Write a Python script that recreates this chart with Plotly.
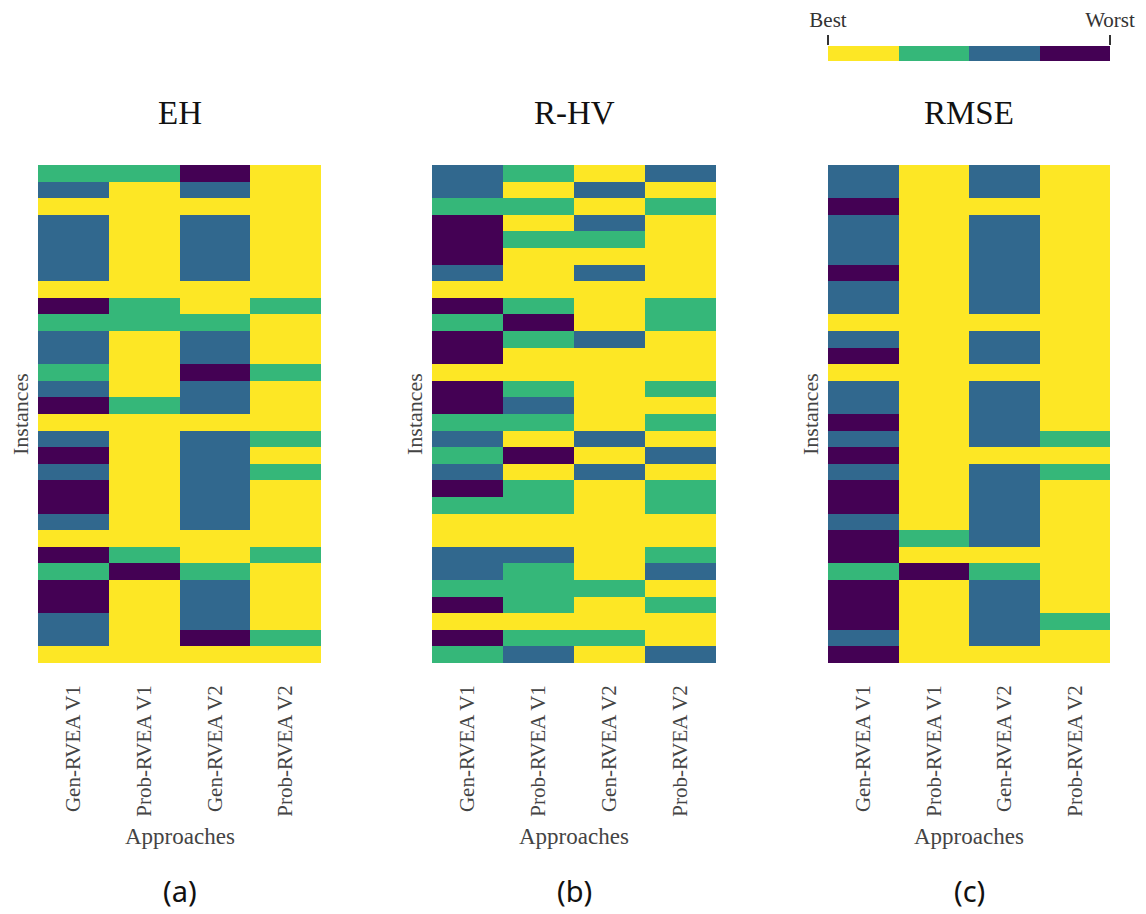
import plotly.graph_objects as go

W, H = 1146, 914

approaches = ["Gen-RVEA V1", "Prob-RVEA V1", "Gen-RVEA V2", "Prob-RVEA V2"]
instances = list(range(1, 31))
metrics = ["EH", "R-HV", "RMSE"]
captions = ["(a)", "(b)", "(c)"]
legend_ranks = [1, 2, 3, 4]
legend_labels = ["Best", "Worst"]

# rank per instance (row) and approach (column): 1 = best ... 4 = worst
eh_ranks = [
    [2, 2, 4, 1], [3, 1, 3, 1], [1, 1, 1, 1], [3, 1, 3, 1], [3, 1, 3, 1],
    [3, 1, 3, 1], [3, 1, 3, 1], [1, 1, 1, 1], [4, 2, 1, 2], [2, 2, 2, 1],
    [3, 1, 3, 1], [3, 1, 3, 1], [2, 1, 4, 2], [3, 1, 3, 1], [4, 2, 3, 1],
    [1, 1, 1, 1], [3, 1, 3, 2], [4, 1, 3, 1], [3, 1, 3, 2], [4, 1, 3, 1],
    [4, 1, 3, 1], [3, 1, 3, 1], [1, 1, 1, 1], [4, 2, 1, 2], [2, 4, 2, 1],
    [4, 1, 3, 1], [4, 1, 3, 1], [3, 1, 3, 1], [3, 1, 4, 2], [1, 1, 1, 1],
]
rhv_ranks = [
    [3, 2, 1, 3], [3, 1, 3, 1], [2, 2, 1, 2], [4, 1, 3, 1], [4, 2, 2, 1],
    [4, 1, 1, 1], [3, 1, 3, 1], [1, 1, 1, 1], [4, 2, 1, 2], [2, 4, 1, 2],
    [4, 2, 3, 1], [4, 1, 1, 1], [1, 1, 1, 1], [4, 2, 1, 2], [4, 3, 1, 1],
    [2, 2, 1, 2], [3, 1, 3, 1], [2, 4, 1, 3], [3, 1, 3, 1], [4, 2, 1, 2],
    [2, 2, 1, 2], [1, 1, 1, 1], [1, 1, 1, 1], [3, 3, 1, 2], [3, 2, 1, 3],
    [2, 2, 2, 1], [4, 2, 1, 2], [1, 1, 1, 1], [4, 2, 2, 1], [2, 3, 1, 3],
]
rmse_ranks = [
    [3, 1, 3, 1], [3, 1, 3, 1], [4, 1, 1, 1], [3, 1, 3, 1], [3, 1, 3, 1],
    [3, 1, 3, 1], [4, 1, 3, 1], [3, 1, 3, 1], [3, 1, 3, 1], [1, 1, 1, 1],
    [3, 1, 3, 1], [4, 1, 3, 1], [1, 1, 1, 1], [3, 1, 3, 1], [3, 1, 3, 1],
    [4, 1, 3, 1], [3, 1, 3, 2], [4, 1, 1, 1], [3, 1, 3, 2], [4, 1, 3, 1],
    [4, 1, 3, 1], [3, 1, 3, 1], [4, 2, 3, 1], [4, 1, 1, 1], [2, 4, 2, 1],
    [4, 1, 3, 1], [4, 1, 3, 1], [4, 1, 3, 2], [3, 1, 3, 1], [4, 1, 1, 1],
]
all_ranks = [eh_ranks, rhv_ranks, rmse_ranks]

YEL, GRN, BLU, PUR = "#fde725", "#35b779", "#31688e", "#440154"
cscale = [[0, YEL], [0.25, YEL], [0.25, GRN], [0.5, GRN],
          [0.5, BLU], [0.75, BLU], [0.75, PUR], [1, PUR]]

SERIF = "Liberation Serif"
SANS = "Noto Sans"

# pixel layout
x_px = [(38, 321), (432, 716), (828, 1110)]
y_top, y_bot = 165, 663


def px_x(v):
    return v / W


def px_y(v):
    return 1 - v / H


fig = go.Figure()
annotations = []
for i, (metric, ranks) in enumerate(zip(metrics, all_ranks)):
    n = "" if i == 0 else str(i + 1)
    fig.add_trace(go.Heatmap(
        z=ranks, x=approaches, y=instances, zmin=0.5, zmax=4.5,
        colorscale=cscale, showscale=False, xaxis="x" + n, yaxis="y" + n,
        hoverinfo="skip",
    ))
    x0, x1 = x_px[i]
    fig.layout["xaxis" + n] = dict(
        domain=[px_x(x0), px_x(x1)], anchor="y" + n, tickangle=-90,
        showgrid=False, zeroline=False, showline=False, ticks="",
        ticklabelstandoff=17, automargin=False,
        tickfont=dict(family=SERIF, size=21, color="#444444"),
    )
    fig.layout["yaxis" + n] = dict(
        domain=[px_y(y_bot), px_y(y_top)], anchor="x" + n,
        autorange="reversed", showticklabels=False, showgrid=False,
        zeroline=False, showline=False, ticks="", automargin=False,
    )
    cx = (x0 + x1) / 2
    annotations.append(dict(text=metric, x=px_x(cx), y=px_y(113), xref="paper", yref="paper",
                            showarrow=False, font=dict(family=SERIF, size=33, color="#111111"),
                            xanchor="center", yanchor="middle"))
    annotations.append(dict(text="Approaches", x=px_x(cx), y=px_y(836), xref="paper", yref="paper",
                            showarrow=False, font=dict(family=SERIF, size=23, color="#444444"),
                            xanchor="center", yanchor="middle"))
    annotations.append(dict(text="Instances", x=px_x(x0 - 18), y=px_y((y_top + y_bot) / 2),
                            xref="paper", yref="paper", textangle=-90,
                            showarrow=False, font=dict(family=SERIF, size=22, color="#444444"),
                            xanchor="center", yanchor="middle"))
    annotations.append(dict(text=captions[i], x=px_x(cx), y=px_y(890), xref="paper", yref="paper",
                            showarrow=False, font=dict(family=SANS, size=29, color="#111111"),
                            xanchor="center", yanchor="middle"))

# Legend bar (Best -> Worst)
fig.add_trace(go.Heatmap(
    z=[legend_ranks], x=legend_ranks, y=[0], zmin=0.5, zmax=4.5,
    colorscale=cscale, showscale=False, xaxis="x4", yaxis="y4", hoverinfo="skip",
))
fig.layout["xaxis4"] = dict(
    domain=[px_x(828), px_x(1110)], anchor="y4", side="top",
    range=[0.5, 4.5], tickvals=[0.5, 4.5], ticktext=legend_labels,
    ticks="outside", ticklen=10, tickwidth=2, tickcolor="#333333",
    tickfont=dict(family=SERIF, size=21, color="#333333"), automargin=False,
    showgrid=False, zeroline=False, showline=False,
)
fig.layout["yaxis4"] = dict(
    domain=[px_y(61), px_y(46)], anchor="x4", showticklabels=False,
    showgrid=False, zeroline=False, showline=False, ticks="", automargin=False,
)

fig.update_layout(
    width=W, height=H, margin=dict(l=0, r=0, t=0, b=0),
    paper_bgcolor="white", plot_bgcolor="white",
    annotations=annotations, showlegend=False,
)

fig.write_html("out.html")
